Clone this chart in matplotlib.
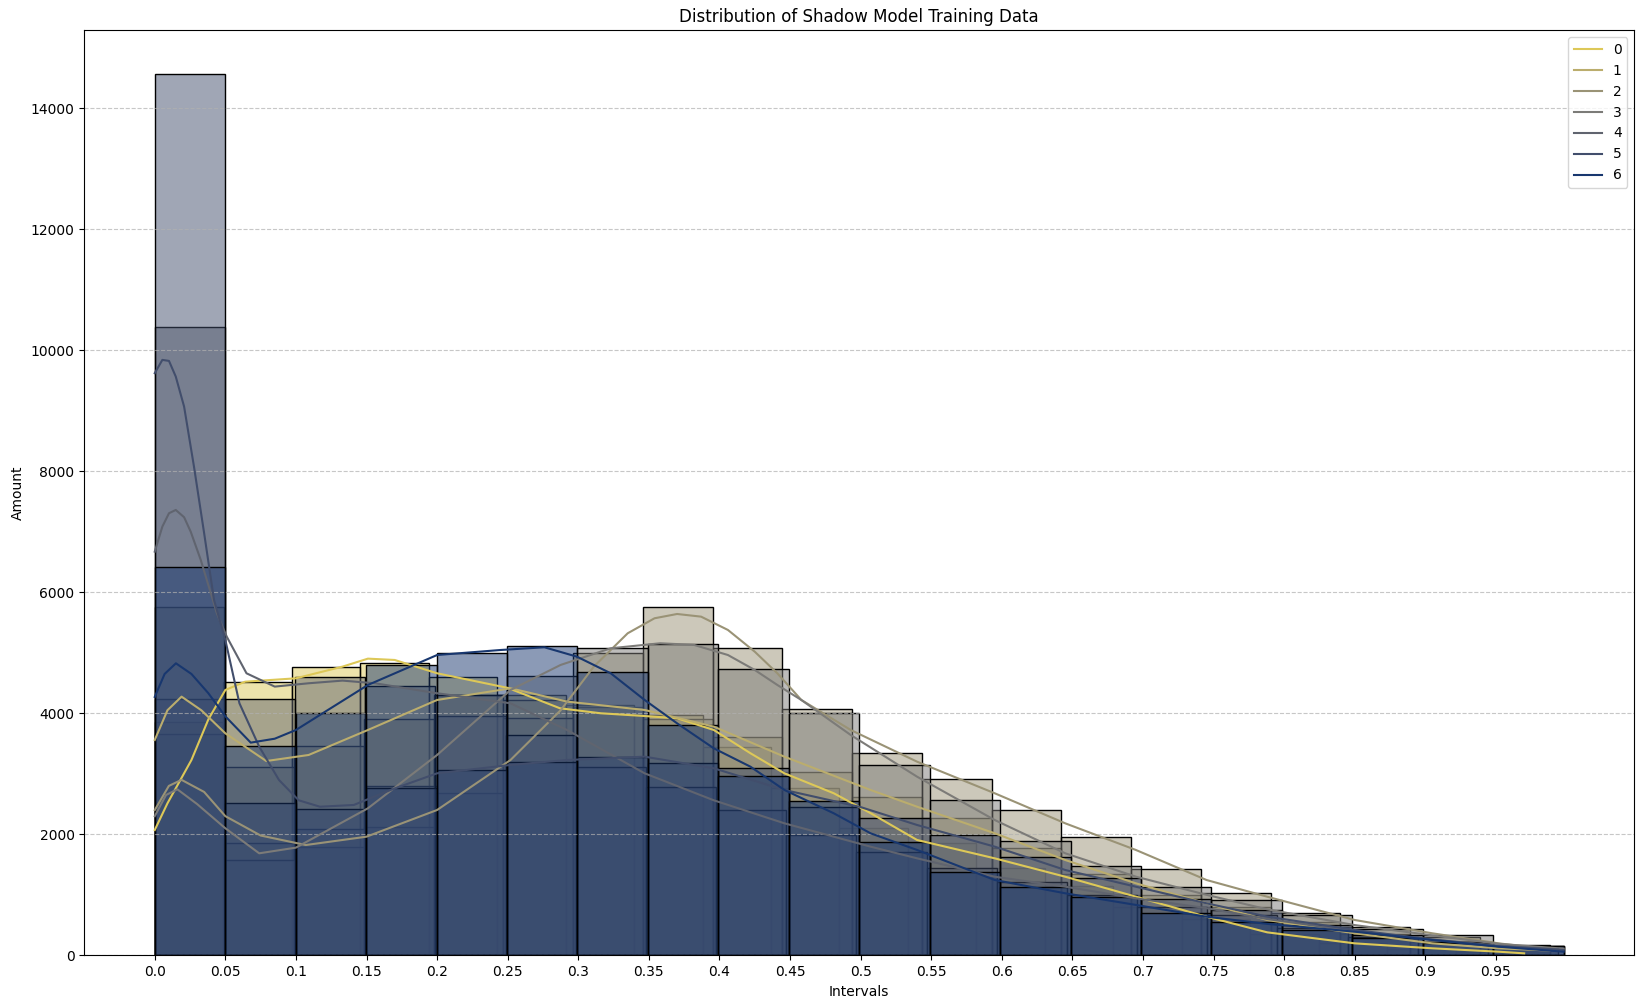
import numpy as np
import matplotlib.pyplot as plt
from matplotlib.colors import to_rgba

labels = ['0', '1', '2', '3', '4', '5', '6']
# upper end of each series' value range (bins span 0 .. max, 20 bins)
data_max = [0.970, 0.988, 0.988, 0.998, 0.994, 0.998, 0.998]

counts_0 = [3851, 4512, 4760, 4837, 4605, 4303, 4138, 3972, 3449, 2760, 2100, 1851, 1450, 1150, 800, 600, 352, 198, 100, 60]
counts_1 = [5762, 3107, 3459, 3901, 4300, 4220, 4100, 3900, 3614, 3035, 2620, 2264, 1779, 1350, 1000, 800, 550, 350, 220, 130]
counts_2 = [3658, 1861, 1785, 2126, 2678, 3917, 5002, 5752, 5074, 4066, 3339, 2909, 2402, 1961, 1421, 1035, 705, 473, 300, 170]
counts_3 = [4231, 1575, 2083, 2800, 3955, 4617, 5085, 5140, 4727, 4000, 3146, 2567, 1890, 1482, 1134, 914, 666, 430, 336, 160]
counts_4 = [10390, 4231, 4605, 4451, 4303, 3641, 3117, 2787, 2402, 1988, 1702, 1438, 1217, 1000, 800, 666, 450, 300, 220, 140]
counts_5 = [14560, 2512, 2413, 2760, 3063, 3200, 3283, 3174, 3091, 2446, 2275, 1990, 1630, 1273, 926, 750, 500, 330, 220, 150]
counts_6 = [6413, 3459, 4000, 4799, 4991, 5113, 4688, 3807, 2964, 2556, 1878, 1383, 1134, 959, 705, 556, 420, 280, 200, 150]

# kde curves
kde_x_0 = [0, 0.009, 0.026, 0.038, 0.05, 0.064, 0.1, 0.133, 0.151, 0.17, 0.2, 0.25, 0.287, 0.316, 0.347, 0.37,
           0.396, 0.422, 0.446, 0.481, 0.507, 0.54, 0.595, 0.645, 0.695, 0.745, 0.788, 0.85, 0.905, 0.952, 0.97]
kde_y_0 = [2071, 2512, 3228, 3900, 4385, 4522, 4578, 4771, 4903, 4881, 4661, 4420, 4083, 4000, 3955, 3917,
           3724, 3339, 3008, 2678, 2350, 1906, 1603, 1299, 969, 638, 380, 198, 116, 60, 33]
kde_x_1 = [0, 0.009, 0.019, 0.033, 0.05, 0.079, 0.109, 0.151, 0.2, 0.252, 0.292, 0.347, 0.396, 0.446, 0.507,
           0.54, 0.595, 0.645, 0.695, 0.745, 0.788, 0.85, 0.905, 0.952, 0.988]
kde_y_1 = [3559, 4050, 4275, 4050, 3669, 3211, 3311, 3724, 4220, 4413, 4193, 4055, 3779, 3283, 2733,
           2456, 2017, 1575, 1190, 860, 584, 364, 198, 116, 80]
kde_x_2 = [0, 0.01, 0.019, 0.035, 0.05, 0.075, 0.107, 0.15, 0.2, 0.252, 0.2875, 0.311, 0.335, 0.354, 0.37,
           0.387, 0.406, 0.425, 0.441, 0.458, 0.493, 0.54, 0.595, 0.645, 0.695, 0.745, 0.788, 0.85, 0.905,
           0.952, 0.988]
kde_y_2 = [2400, 2800, 2900, 2700, 2300, 1980, 1823, 1961, 2402, 3228, 4050, 4771, 5322, 5570, 5641,
           5597, 5377, 5018, 4661, 4220, 3724, 3200, 2678, 2181, 1741, 1245, 969, 584, 364,
           198, 100]
kde_x_3 = [0, 0.008, 0.016, 0.03, 0.05, 0.074, 0.1, 0.151, 0.2, 0.252, 0.2875, 0.323, 0.358, 0.382, 0.406,
           0.425, 0.441, 0.458, 0.493, 0.54, 0.595, 0.645, 0.695, 0.745, 0.788, 0.85, 0.905, 0.952, 0.998]
kde_y_3 = [2300, 2650, 2744, 2500, 2100, 1686, 1780, 2430, 3311, 4385, 4799, 5074, 5157, 5130, 4963,
           4716, 4468, 4220, 3641, 2952, 2236, 1686, 1300, 1000, 760, 500, 330, 190, 110]
kde_x_4 = [0, 0.0054, 0.0101, 0.0149, 0.0208, 0.0255, 0.0326, 0.044, 0.051, 0.065, 0.085, 0.109, 0.133,
           0.156, 0.2, 0.252, 0.292, 0.347, 0.396, 0.446, 0.507, 0.54, 0.595, 0.645, 0.695, 0.745, 0.788,
           0.85, 0.905, 0.952, 0.994]
kde_y_4 = [6671, 7085, 7306, 7360, 7240, 7000, 6534, 5653, 5267, 4661, 4441, 4496, 4540,
           4496, 4331, 4165, 3724, 3008, 2562, 2182, 1796, 1603, 1299, 1134, 942, 780, 600,
           400, 260, 160, 100]
kde_x_5 = [0, 0.0054, 0.0101, 0.0149, 0.0208, 0.0278, 0.035, 0.042, 0.05, 0.06, 0.074, 0.088, 0.102,
           0.117, 0.141, 0.167, 0.2, 0.252, 0.292, 0.347, 0.396, 0.446, 0.5, 0.54, 0.595, 0.645, 0.695,
           0.745, 0.788, 0.85, 0.905, 0.952, 0.998]
kde_y_5 = [9620, 9840, 9823, 9564, 9068, 8076, 6975, 5873, 5212, 4165, 3449, 2898, 2562,
           2456, 2485, 2733, 3008, 3146, 3228, 3283, 3091, 2733, 2450, 2154, 1796, 1410, 1134,
           860, 640, 420, 260, 150, 90]
kde_x_6 = [0, 0.007, 0.015, 0.026, 0.038, 0.05, 0.068, 0.085, 0.1, 0.151, 0.2, 0.245, 0.276, 0.299, 0.323,
           0.347, 0.37, 0.396, 0.422, 0.446, 0.481, 0.507, 0.54, 0.595, 0.645, 0.695, 0.745, 0.788, 0.85,
           0.905, 0.952, 0.998]
kde_y_6 = [4270, 4650, 4826, 4650, 4331, 3950, 3515, 3580, 3724, 4468, 4963, 5046, 5091, 4936, 4661,
           4220, 3834, 3421, 3117, 2733, 2347, 2017, 1741, 1245, 1025, 833, 638, 520, 391,
           253, 143, 60]

xtick_values = [0.0, 0.05, 0.1, 0.15, 0.2, 0.25, 0.3, 0.35, 0.4, 0.45,
                0.5, 0.55, 0.6, 0.65, 0.7, 0.75, 0.8, 0.85, 0.9, 0.95]
xtick_labels = ['0.0', '0.05', '0.1', '0.15', '0.2', '0.25', '0.3', '0.35', '0.4', '0.45',
                '0.5', '0.55', '0.6', '0.65', '0.7', '0.75', '0.8', '0.85', '0.9', '0.95']

counts = [counts_0, counts_1, counts_2, counts_3, counts_4, counts_5, counts_6]
kde_x = [kde_x_0, kde_x_1, kde_x_2, kde_x_3, kde_x_4, kde_x_5, kde_x_6]
kde_y = [kde_y_0, kde_y_1, kde_y_2, kde_y_3, kde_y_4, kde_y_5, kde_y_6]

colors = plt.get_cmap('cividis_r')(np.linspace(0, 1, len(labels) + 2)[1:-1])

fig, ax = plt.subplots(figsize=(16.43, 10.07), dpi=100)
fig.subplots_adjust(left=0.0513, right=0.9947, top=0.97, bottom=0.0513)

# bars first, then the kde lines on top
for i in range(len(labels)):
    edges = np.linspace(0, data_max[i], len(counts[i]) + 1)
    ax.bar(edges[:-1], counts[i], width=np.diff(edges), align='edge',
           facecolor=to_rgba(colors[i], 0.5), edgecolor='black', linewidth=1)

for i in range(len(labels)):
    ax.plot(kde_x[i], kde_y[i], color=colors[i], linewidth=1.5, label=labels[i])

ax.set_xlim(-0.0499, 1.048)
ax.set_xticks(xtick_values)
ax.set_xticklabels(xtick_labels)
ax.grid(axis='y', linestyle='--', alpha=0.7)
ax.set_title('Distribution of Shadow Model Training Data')
ax.set_xlabel('Intervals')
ax.set_ylabel('Amount')
ax.legend(loc='upper right')

fig.savefig('out.png')
